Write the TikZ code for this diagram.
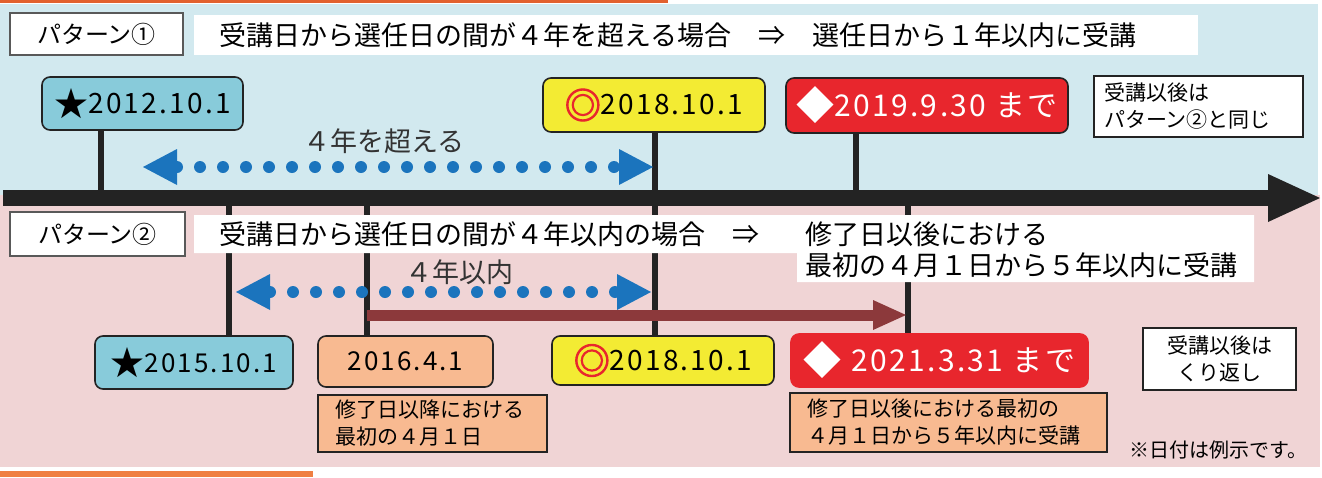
\documentclass[tikz,border=0pt]{standalone}
\usepackage{fontspec}
\setmainfont{Noto Sans CJK JP}
\newfontfamily\datefont[LetterSpace=8]{Noto Sans CJK JP}
\newfontfamily\ringfont[FakeBold=3]{Noto Sans CJK JP}
\usetikzlibrary{arrows.meta}
\definecolor{bandblue}{HTML}{D2E9EF}
\definecolor{bandpink}{HTML}{F0D4D5}
\definecolor{lineorange}{HTML}{E2612F}
\definecolor{lineorangeb}{HTML}{EF7F42}
\definecolor{boxblue}{HTML}{88CBDA}
\definecolor{boxyellow}{HTML}{F3EB33}
\definecolor{boxred}{HTML}{E8262D}
\definecolor{boxpeach}{HTML}{F8BA91}
\definecolor{dotblue}{HTML}{1B74BD}
\definecolor{spanred}{HTML}{8C393B}
\definecolor{axisblack}{HTML}{232323}
\newcommand{\bigsym}[3]{\raisebox{-#2pt}{\fontsize{#1}{#1}\selectfont #3}}

\tikzset{
	datebox/.style={rounded corners=8pt,draw=axisblack,line width=1.6pt,inner sep=0pt,font=\datefont\fontsize{28}{30}\selectfont},
	notebox/.style={draw=axisblack,line width=1.6pt,inner ysep=0pt,font=\fontsize{21}{27}\selectfont},
	patbox/.style={draw=black!65,line width=1.6pt,fill=white,inner sep=0pt,font=\fontsize{24}{26}\selectfont},
	headline/.style={inner sep=0pt,anchor=west,align=left,font=\fontsize{27}{31}\selectfont},
	spanlabel/.style={inner sep=0pt,text=black!80,font=\fontsize{27}{30}\selectfont},
	tick/.style={draw=axisblack,line width=6pt},
	dotspan/.style={draw=dotblue,line width=12pt,line cap=round,dash pattern=on 0pt off 23pt,
		>={Triangle[length=34pt,width=36pt,line width=0pt]},<->},
}

\begin{document}
\begin{tikzpicture}[x=1pt,y=-1pt]
	\useasboundingbox (0,0) rectangle (1322,477);
	\fill[bandblue] (0,4) rectangle (1318,195);
	\fill[bandpink] (0,195) rectangle (1320,467);
	\fill[lineorange] (0,0) rectangle (668,3);
	\fill[lineorangeb] (0,471) rectangle (313,477);
	\coordinate (ax0) at (3,198);
	\coordinate (ax1) at (1320,198);
	\foreach \n/\x in {t1/101,t3/655,t4/856,s1/229,s2/367,s4/908}{
		\coordinate (\n) at (\x,198);
	}
	\node[patbox,minimum width=173pt,minimum height=42pt] (pat1) at (96.5,34) {パターン①};
	\node[patbox,minimum width=175pt,minimum height=44pt] (pat2) at (97.5,234) {パターン②};
	\node[datebox,fill=boxblue,minimum width=201pt,minimum height=53pt] (d1) at (142.5,103.5) {\bigsym{34}{2.5}{★}2012.10.1};
	\node[datebox,fill=boxyellow,minimum width=222pt,minimum height=54pt] (d3) at (654,105) {\bigsym{36}{4}{\ringfont\color{boxred}◎}2018.10.1};
	\node[datebox,fill=boxred,text=white,font=\datefont\fontsize{30}{32}\selectfont,minimum width=282pt,minimum height=55pt] (d4) at (927,105.5) {\bigsym{38}{3.5}{◆}2019.9.30 まで};
	\node[datebox,fill=boxblue,font=\datefont\fontsize{26}{28}\selectfont,minimum width=198pt,minimum height=53pt] (e1) at (194,362.5) {\bigsym{34}{3}{★}2015.10.1};
	\node[datebox,fill=boxpeach,font=\datefont\fontsize{26}{28}\selectfont,minimum width=175pt,minimum height=51pt] (e2) at (405.5,361.5) {2016.4.1};
	\node[datebox,fill=boxyellow,minimum width=222pt,minimum height=49pt] (e3) at (663,360.5) {\bigsym{36}{4}{\ringfont\color{boxred}◎}2018.10.1};
	\node[datebox,draw=boxred,fill=boxred,text=white,font=\datefont\fontsize{30}{32}\selectfont,minimum width=297pt,minimum height=53pt] (e4) at (939.5,360.5) {\bigsym{38}{3.5}{◆} 2021.3.31 まで};
	\node[notebox,fill=white,inner xsep=10pt,text width=189pt,align=left,minimum height=61pt] (n1) at (1198.5,106.5) {受講以後は\\パターン②と同じ};
	\node[notebox,fill=boxpeach,inner xsep=17pt,text width=195pt,align=left,minimum height=57pt] (n2) at (432.5,423.5) {修了日以降における\\最初の４月１日};
	\node[notebox,fill=boxpeach,inner xsep=17pt,text width=283pt,align=left,minimum height=59pt] (n3) at (948.5,422.5) {修了日以後における最初の\\４月１日から５年以内に受講};
	\node[notebox,fill=white,inner xsep=0pt,minimum width=153pt,align=center,minimum height=62pt] (n4) at (1219.5,359) {受講以後は\\くり返し};
	\node[inner sep=0pt,anchor=east,font=\fontsize{20}{22}\selectfont] (memo) at (1308,450) {※日付は例示です。};
	\draw[tick] (t1 |- d1.south) -- (t1);
	\draw[tick] (t3 |- d3.south) -- (t3 |- e3.north);
	\draw[tick] (t4 |- d4.south) -- (t4);
	\draw[tick] (s1) -- (s1 |- e1.north);
	\draw[tick] (s2) -- (s2 |- e2.north);
	\draw[tick] (s4) -- (s4 |- e4.north);
	\draw[axisblack,line width=16pt,-{Triangle[length=52pt,width=48pt,line width=0pt]}] (ax0) -- (ax1);
	\coordinate (a0) at (143,167);
	\coordinate (a1) at (653,167);
	\coordinate (b0) at (236,292);
	\coordinate (b1) at (651,292);
	\coordinate (r0) at (s2 |- 0,315);
	\coordinate (r1) at (906,315);
	\draw[dotspan] (a0) -- (a1);
	\draw[dotspan] (b0) -- (b1);
	\draw[spanred,line width=11pt,-{Triangle[length=33pt,width=30pt,line width=0pt]}] (r0) -- (r1);
	\node[spanlabel] (over) at (384,141) {４年を超える};
	\node[spanlabel] (within) at (459,272) {４年以内};
	\fill[white] (194,15) rectangle (1198,55);
	\fill[white] (194,215) rectangle (800,253) (797,215) rectangle (1254,282);
	\node[headline] (head1) at (219,35) {受講日から選任日の間が４年を超える場合　⇒　選任日から１年以内に受講};
	\node[headline] (head2) at (219,234) {受講日から選任日の間が４年以内の場合　⇒};
	\node[headline] (head3) at (805,249.5) {修了日以後における\\最初の４月１日から５年以内に受講};
\end{tikzpicture}
\end{document}
